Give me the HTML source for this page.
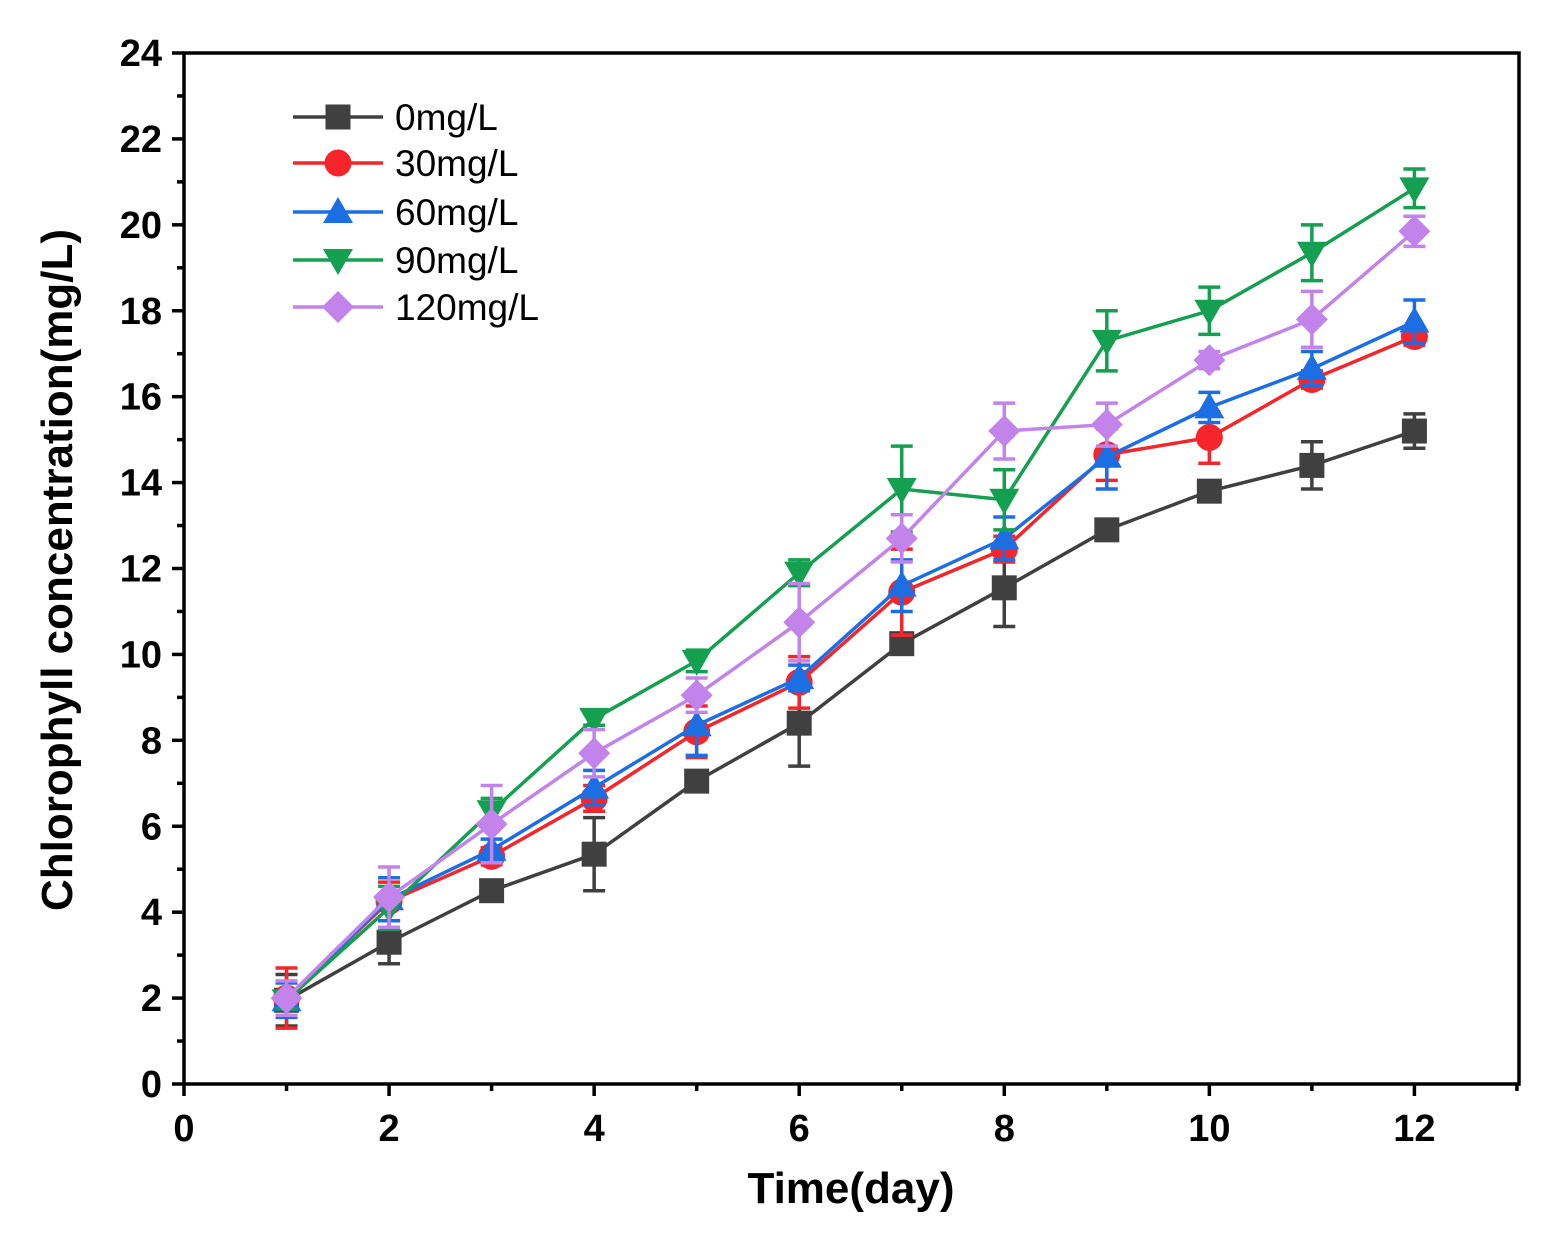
<!DOCTYPE html>
<html><head><meta charset="utf-8"><style>
html,body{margin:0;padding:0;background:#fff;}
svg{display:block;font-family:"Liberation Sans",Arial,sans-serif;}
</style></head><body>
<svg id="chart" width="1550" height="1240" viewBox="0 0 1550 1240" xmlns="http://www.w3.org/2000/svg"></svg>
<script>
const days=[1,2,3,4,5,6,7,8,9,10,11,12];
const seriesNames=["0mg/L","30mg/L","60mg/L","90mg/L","120mg/L"];
const s0=[1.95,3.3,4.5,5.35,7.05,8.4,10.25,11.55,12.9,13.8,14.4,15.2];
const e0=[0.6,0.5,0.15,0.85,0.1,1.0,0.2,0.9,0.1,0.2,0.55,0.4];
const s30=[2.0,4.25,5.3,6.65,8.2,9.35,11.45,12.45,14.65,15.05,16.4,17.4];
const e30=[0.7,0.45,0.2,0.3,0.6,0.6,1.0,0.3,0.6,0.6,0.2,0.2];
const s60=[1.95,4.3,5.45,6.9,8.35,9.45,11.6,12.7,14.6,15.75,16.65,17.75];
const e60=[0.4,0.5,0.25,0.4,0.7,0.3,0.6,0.5,0.75,0.35,0.4,0.5];
const s90=[1.95,4.1,6.35,8.5,9.85,11.9,13.85,13.6,17.3,18.0,19.35,20.85];
const e90=[0.2,0.5,0.3,0.15,0.25,0.3,1.0,0.7,0.7,0.55,0.65,0.45];
const s120=[2.0,4.35,6.05,7.7,9.05,10.75,12.7,15.2,15.35,16.85,17.8,19.85];
const e120=[0.4,0.7,0.9,0.55,0.4,0.9,0.55,0.65,0.5,0.2,0.65,0.35];
const xTicks=[0,2,4,6,8,10,12];
const yTicks=[0,2,4,6,8,10,12,14,16,18,20,22,24];

const NS="http://www.w3.org/2000/svg";
const svg=document.getElementById('chart');
const X0=184,X1=1519,Y0=1084,Y1=53;
const xs=v=>X0+v*(X1-X0)/13.02;
const ys=v=>Y0-v*(Y0-Y1)/24;
function mk(tag,attrs,parent){const e=document.createElementNS(NS,tag);for(const k in attrs)e.setAttribute(k,attrs[k]);(parent||svg).appendChild(e);return e;}

const frame=mk('rect',{x:X0,y:Y1,width:X1-X0,height:Y0-Y1,fill:'none',stroke:'#000','stroke-width':3.5});



for(let v=0;v<=13;v++){
  const major=v%2===0;
  const t=mk('line',{x1:xs(v),x2:xs(v),y1:Y0,y2:Y0+(major?12:7),stroke:'#000','stroke-width':3.5});
  
  
}
xTicks.forEach(v=>{
  const t=mk('text',{x:xs(v),y:1141,'text-anchor':'middle','font-size':38,'font-weight':'bold'});
  t.textContent=v;
  
  
});
for(let v=0;v<=24;v++){
  const major=v%2===0;
  const t=mk('line',{x1:X0,x2:X0-(major?12:7),y1:ys(v),y2:ys(v),stroke:'#000','stroke-width':3.5});
  
  
}
yTicks.forEach(v=>{
  const t=mk('text',{x:162,y:ys(v)+13,'text-anchor':'end','font-size':38,'font-weight':'bold'});
  t.textContent=v;
  
  
});
const xt=mk('text',{x:851,y:1203,'text-anchor':'middle','font-size':44,'font-weight':'bold'});
xt.textContent='Time(day)';


const yt=mk('text',{x:0,y:0,'text-anchor':'middle','font-size':44,'font-weight':'bold',transform:'translate(72,570) rotate(-90)'});
yt.textContent='Chlorophyll concentration(mg/L)';



const colors=['#404040','#f5252b','#1b6fe3','#14a050','#c283ea'];
const vals=[s0,s30,s60,s90,s120];
const errs=[e0,e30,e60,e90,e120];
function marker(kind,cx,cy,col,g){
  const r=12.5;
  if(kind===0) return mk('rect',{x:cx-r,y:cy-r,width:2*r,height:2*r,fill:col},g);
  if(kind===1) return mk('circle',{cx:cx,cy:cy,r:r+1,fill:col},g);
  if(kind===2) return mk('polygon',{points:`${cx},${cy-15} ${cx+15},${cy+11} ${cx-15},${cy+11}`,fill:col},g);
  if(kind===3) return mk('polygon',{points:`${cx},${cy+15} ${cx+15},${cy-11} ${cx-15},${cy-11}`,fill:col},g);
  return mk('polygon',{points:`${cx},${cy-16} ${cx+16},${cy} ${cx},${cy+16} ${cx-16},${cy}`,fill:col},g);
}
vals.forEach((arr,si)=>{
  const g=mk('g',{});
  
  
  const pts=days.map((d,i)=>xs(d)+','+ys(arr[i])).join(' ');
  mk('polyline',{points:pts,fill:'none',stroke:colors[si],'stroke-width':3.5},g);
  days.forEach((d,i)=>{
    const cx=xs(d),hi=ys(arr[i]+errs[si][i]),lo=ys(arr[i]-errs[si][i]);
    const eb=mk('path',{d:`M${cx},${hi}V${lo}M${cx-11},${hi}H${cx+11}M${cx-11},${lo}H${cx+11}`,stroke:colors[si],'stroke-width':3.5,fill:'none'},g);
    
    
  });
  days.forEach((d,i)=>{
    const m=marker(si,xs(d),ys(arr[i]),colors[si],g);
    
    
  });
});
const ly=[117,163,212,260,307];
seriesNames.forEach((n,si)=>{
  const g=mk('g',{});
  
  
  mk('line',{x1:293,x2:383,y1:ly[si],y2:ly[si],stroke:colors[si],'stroke-width':3.5},g);
  marker(si,338,ly[si],colors[si],g);
  const t=mk('text',{x:395,y:ly[si]+13,'font-size':37},g);
  t.textContent=n;
});
</script>
</body></html>
